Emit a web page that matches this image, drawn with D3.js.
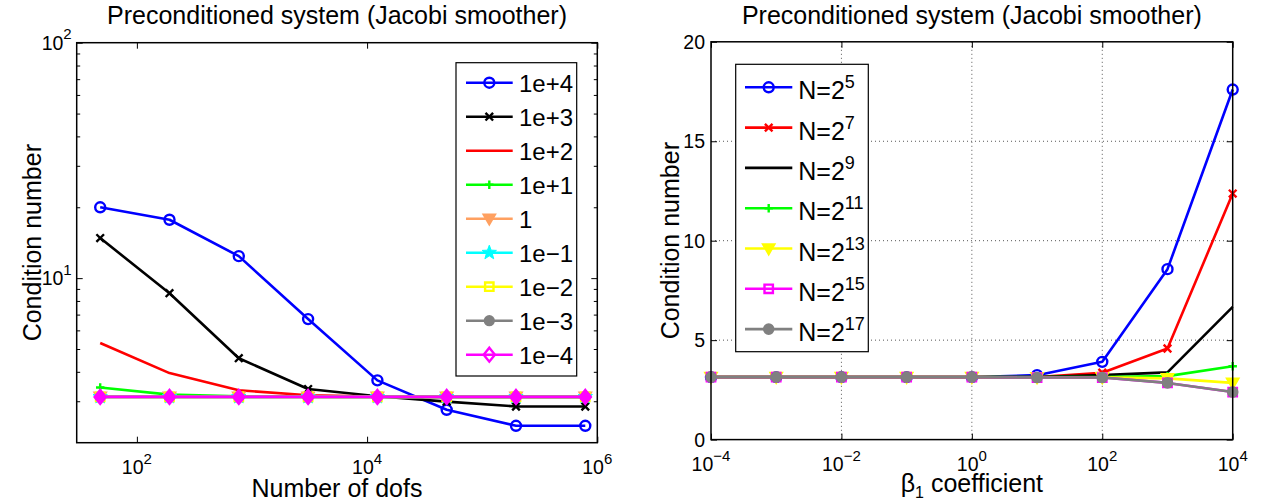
<!DOCTYPE html>
<html><head><meta charset="utf-8">
<script src="https://cdn.jsdelivr.net/npm/d3@7"></script>
<style>
html,body{margin:0;padding:0;background:#fff;}
svg{display:block;font-family:"Liberation Sans",Arial,Helvetica,sans-serif;}
</style></head>
<body><svg id="c" width="1265" height="502"></svg>
<script>
// ---------- data: left panel ----------
const dofs = [48, 192, 768, 3072, 12288, 49152, 196608, 786432];
const leftNames = ["1e+4","1e+3","1e+2","1e+1","1","1e\u22121","1e\u22122","1e\u22123","1e\u22124"];
const cond_1e4  = [20.0, 17.7, 12.4, 6.70, 3.68, 2.76, 2.36, 2.36];
const cond_1e3  = [14.8, 8.63, 4.57, 3.38, 3.15, 2.99, 2.85, 2.85];
const cond_1e2  = [5.30, 3.95, 3.34, 3.18, 3.14, 3.13, 3.13, 3.13];
const cond_1e1  = [3.43, 3.20, 3.15, 3.14, 3.13, 3.13, 3.13, 3.13];
const cond_1    = [3.13, 3.13, 3.13, 3.13, 3.13, 3.13, 3.13, 3.13];
const cond_1em1 = [3.13, 3.13, 3.13, 3.13, 3.13, 3.13, 3.13, 3.13];
const cond_1em2 = [3.13, 3.13, 3.13, 3.13, 3.13, 3.13, 3.13, 3.13];
const cond_1em3 = [3.13, 3.13, 3.13, 3.13, 3.13, 3.13, 3.13, 3.13];
const cond_1em4 = [3.13, 3.13, 3.13, 3.13, 3.13, 3.13, 3.13, 3.13];
const leftXTicks = [1e2, 1e4, 1e6];
const leftXTickExp = ["2", "4", "6"];
const leftYTicks = [10, 100];
const leftYTickExp = ["1", "2"];
const leftYMinor = [3,4,5,6,7,8,9,20,30,40,50,60,70,80,90];

// ---------- data: right panel ----------
const beta = [1e-4, 1e-3, 1e-2, 1e-1, 1e0, 1e1, 1e2, 1e3, 1e4];
const rightExp = ["5","7","9","11","13","15","17"];
const condN5  = [3.14, 3.14, 3.14, 3.14, 3.14, 3.24, 3.91, 8.57, 17.6];
const condN7  = [3.14, 3.14, 3.14, 3.14, 3.14, 3.14, 3.36, 4.58, 12.37];
const condN9  = [3.14, 3.14, 3.14, 3.14, 3.14, 3.14, 3.24, 3.38, 6.67];
const condN11 = [3.14, 3.14, 3.14, 3.14, 3.14, 3.14, 3.14, 3.19, 3.69];
const condN13 = [3.14, 3.14, 3.14, 3.14, 3.14, 3.13, 3.13, 3.08, 2.85];
const condN15 = [3.14, 3.14, 3.14, 3.14, 3.14, 3.12, 3.12, 2.85, 2.39];
const condN17 = [3.14, 3.14, 3.14, 3.14, 3.14, 3.12, 3.12, 2.85, 2.39];
const rightXTicks = [1e-4, 1e-2, 1e0, 1e2, 1e4];
const rightXTickExp = ["\u22124", "\u22122", "0", "2", "4"];
const rightYTicks = [0, 5, 10, 15, 20];

// ---------- marker paths ----------
const M = {
  circle: r => `M${-r},0A${r},${r} 0 1,0 ${r},0A${r},${r} 0 1,0 ${-r},0Z`,
  x: r => `M${-r},${-r}L${r},${r}M${-r},${r}L${r},${-r}`,
  plus: r => `M${-r},0L${r},0M0,${-r}L0,${r}`,
  tri: r => `M${-r},${-r*0.75}L${r},${-r*0.75}L0,${r}Z`,
  square: r => `M${-r},${-r}L${r},${-r}L${r},${r}L${-r},${r}Z`,
  diamond: r => `M0,${-r*1.25}L${r},0L0,${r*1.25}L${-r},0Z`,
  star: r => { let p=[]; for(let i=0;i<10;i++){const a=-Math.PI/2+i*Math.PI/5; const rr=i%2?r*0.42:r; p.push([rr*Math.cos(a),rr*Math.sin(a)]);} return "M"+p.map(d=>d.join(",")).join("L")+"Z"; }
};
const LW = 2.6;

const svg = d3.select("#c");

function drawMarker(g, kind, x, y, color) {
  if (!kind.m) return;
  g.append("path").attr("transform", `translate(${x},${y})`)
    .attr("d", M[kind.m](kind.r))
    .attr("fill", kind.fill ? color : "none")
    .attr("stroke", color).attr("stroke-width", kind.sw || 2.4);
}

// ================= LEFT PANEL =================
const L = {x0: 76.7, x1: 597.3, y0: 42.7, y1: 442.7};
const xL = d3.scaleLog().domain([30, 1e6]).range([L.x0, L.x1]);
const yL = d3.scaleLog().domain([2, 100]).range([L.y1, L.y0]);

const leftSeries = [
  {name: leftNames[0], v: cond_1e4,  color: "#0000ff", m: "circle", r: 5},
  {name: leftNames[1], v: cond_1e3,  color: "#000000", m: "x", r: 3.8},
  {name: leftNames[2], v: cond_1e2,  color: "#ff0000", m: null},
  {name: leftNames[3], v: cond_1e1,  color: "#00ff00", m: "plus", r: 4.2},
  {name: leftNames[4], v: cond_1,    color: "#ffa060", m: "tri", r: 5.5, fill: true},
  {name: leftNames[5], v: cond_1em1, color: "#00ffff", m: "star", r: 7.5, fill: true, sw: 1},
  {name: leftNames[6], v: cond_1em2, color: "#ffff00", m: "square", r: 4.2},
  {name: leftNames[7], v: cond_1em3, color: "#808080", m: "circle", r: 4.4, fill: true},
  {name: leftNames[8], v: cond_1em4, color: "#ff00ff", m: "diamond", r: 5.6, fill: true}
];

const gL = svg.append("g");
gL.append("g").attr("transform", `translate(0,${L.y1})`)
  .call(d3.axisBottom(xL).tickValues(leftXTicks).tickSizeInner(-6).tickSizeOuter(0).tickFormat(() => ""));
gL.append("g").attr("transform", `translate(0,${L.y0})`)
  .call(d3.axisTop(xL).tickValues(leftXTicks).tickSizeInner(-6).tickSizeOuter(0).tickFormat(() => ""));
gL.append("g").attr("transform", `translate(${L.x0},0)`)
  .call(d3.axisLeft(yL).tickValues(leftYTicks).tickSizeInner(-6).tickSizeOuter(0).tickFormat(() => ""));
gL.append("g").attr("transform", `translate(${L.x1},0)`)
  .call(d3.axisRight(yL).tickValues(leftYTicks).tickSizeInner(-6).tickSizeOuter(0).tickFormat(() => ""));
gL.append("g").attr("transform", `translate(${L.x0},0)`)
  .call(d3.axisLeft(yL).tickValues(leftYMinor).tickSizeInner(-3.5).tickSizeOuter(0).tickFormat(() => ""));
gL.append("g").attr("transform", `translate(${L.x1},0)`)
  .call(d3.axisRight(yL).tickValues(leftYMinor).tickSizeInner(-3.5).tickSizeOuter(0).tickFormat(() => ""));
gL.selectAll(".domain").remove();
gL.selectAll(".tick line").attr("stroke", "#000").attr("stroke-width", 1);

const lineL = d3.line().x((d, i) => xL(dofs[i])).y(d => yL(d));
leftSeries.forEach(s => {
  gL.append("path").attr("d", lineL(s.v)).attr("fill", "none")
    .attr("stroke", s.color).attr("stroke-width", LW).attr("stroke-linejoin", "round");
  s.v.forEach((d, i) => drawMarker(gL, s, xL(dofs[i]), yL(d), s.color));
});

gL.append("rect").attr("x", L.x0).attr("y", L.y0).attr("width", L.x1 - L.x0).attr("height", L.y1 - L.y0)
  .attr("fill", "none").attr("stroke", "#000").attr("stroke-width", 1.5);

leftXTicks.forEach((t, i) => {
  const tx = gL.append("text").attr("x", xL(t)).attr("y", L.y1 + 31.5).attr("text-anchor", "middle")
    .attr("font-size", 19.5).attr("fill", "#000");
  tx.append("tspan").text("10");
  tx.append("tspan").attr("dy", -10.5).attr("font-size", 15).text(leftXTickExp[i]);
});
leftYTicks.forEach((t, i) => {
  const tx = gL.append("text").attr("x", L.x0 - 5).attr("y", yL(t) + 7).attr("text-anchor", "end")
    .attr("font-size", 19.5).attr("fill", "#000");
  tx.append("tspan").text("10");
  tx.append("tspan").attr("dy", -10.5).attr("font-size", 15).text(leftYTickExp[i]);
});

gL.append("text").attr("x", (L.x0 + L.x1) / 2).attr("y", 24).attr("text-anchor", "middle")
  .attr("font-size", 25).text("Preconditioned system (Jacobi smoother)");
gL.append("text").attr("x", (L.x0 + L.x1) / 2).attr("y", 497).attr("text-anchor", "middle")
  .attr("font-size", 25).text("Number of dofs");
gL.append("text").attr("transform", `translate(41,${(L.y0 + L.y1) / 2}) rotate(-90)`).attr("text-anchor", "middle")
  .attr("font-size", 25).text("Condition number");

const lgL = {x0: 456, y0: 62.7, x1: 576.7, y1: 376, row0: 82.7, step: 34};
gL.append("rect").attr("x", lgL.x0).attr("y", lgL.y0).attr("width", lgL.x1 - lgL.x0).attr("height", lgL.y1 - lgL.y0)
  .attr("fill", "#fff").attr("stroke", "#000").attr("stroke-width", 1.2);
leftSeries.forEach((s, i) => {
  const y = lgL.row0 + i * lgL.step;
  gL.append("line").attr("x1", 466).attr("x2", 512.7).attr("y1", y).attr("y2", y)
    .attr("stroke", s.color).attr("stroke-width", LW);
  const mk = Object.assign({}, s);
  if (s.m === "diamond") mk.fill = false;
  drawMarker(gL, mk, 489.3, y, s.color);
  gL.append("text").attr("x", 519).attr("y", y + 9).attr("font-size", 24).text(s.name);
});

// ================= RIGHT PANEL =================
const R = {x0: 711, x1: 1232.7, y0: 41.8, y1: 439.6};
const xR = d3.scaleLog().domain([1e-4, 1e4]).range([R.x0, R.x1]);
const yR = d3.scaleLinear().domain([0, 20]).range([R.y1, R.y0]);

const rightSeries = [
  {v: condN5,  color: "#0000ff", m: "circle", r: 5},
  {v: condN7,  color: "#ff0000", m: "x", r: 3.8},
  {v: condN9,  color: "#000000", m: null},
  {v: condN11, color: "#00ff00", m: "plus", r: 4.2},
  {v: condN13, color: "#ffff00", m: "tri", r: 5.5, fill: true},
  {v: condN15, color: "#ff00ff", m: "square", r: 4.2},
  {v: condN17, color: "#808080", m: "circle", r: 4.6, fill: true}
];

const gR = svg.append("g");
const gridX = rightXTicks.slice(1, -1), gridY = rightYTicks.slice(1, -1);
gR.append("g").selectAll("line").data(gridX).join("line")
  .attr("x1", d => xR(d)).attr("x2", d => xR(d)).attr("y1", R.y0).attr("y2", R.y1)
  .attr("stroke", "#555").attr("stroke-width", 1).attr("stroke-dasharray", "1,3");
gR.append("g").selectAll("line").data(gridY).join("line")
  .attr("y1", d => yR(d)).attr("y2", d => yR(d)).attr("x1", R.x0).attr("x2", R.x1)
  .attr("stroke", "#555").attr("stroke-width", 1).attr("stroke-dasharray", "1,3");

gR.append("g").attr("transform", `translate(0,${R.y1})`)
  .call(d3.axisBottom(xR).tickValues(rightXTicks).tickSizeInner(-6).tickSizeOuter(0).tickFormat(() => ""));
gR.append("g").attr("transform", `translate(0,${R.y0})`)
  .call(d3.axisTop(xR).tickValues(rightXTicks).tickSizeInner(-6).tickSizeOuter(0).tickFormat(() => ""));
gR.append("g").attr("transform", `translate(${R.x0},0)`)
  .call(d3.axisLeft(yR).tickValues(rightYTicks).tickSizeInner(-6).tickSizeOuter(0).tickFormat(() => ""));
gR.append("g").attr("transform", `translate(${R.x1},0)`)
  .call(d3.axisRight(yR).tickValues(rightYTicks).tickSizeInner(-6).tickSizeOuter(0).tickFormat(() => ""));
gR.selectAll(".domain").remove();
gR.selectAll(".tick line").attr("stroke", "#000").attr("stroke-width", 1);

const lineR = d3.line().x((d, i) => xR(beta[i])).y(d => yR(d));
rightSeries.forEach(s => {
  gR.append("path").attr("d", lineR(s.v)).attr("fill", "none")
    .attr("stroke", s.color).attr("stroke-width", LW).attr("stroke-linejoin", "round");
  s.v.forEach((d, i) => drawMarker(gR, s, xR(beta[i]), yR(d), s.color));
});

gR.append("rect").attr("x", R.x0).attr("y", R.y0).attr("width", R.x1 - R.x0).attr("height", R.y1 - R.y0)
  .attr("fill", "none").attr("stroke", "#000").attr("stroke-width", 1.5);

rightXTicks.forEach((t, i) => {
  const tx = gR.append("text").attr("x", xR(t)).attr("y", R.y1 + 31.5).attr("text-anchor", "middle")
    .attr("font-size", 19.5);
  tx.append("tspan").text("10");
  tx.append("tspan").attr("dy", -10.5).attr("font-size", 15).text(rightXTickExp[i]);
});
rightYTicks.forEach(t => {
  gR.append("text").attr("x", R.x0 - 6).attr("y", yR(t) + 7).attr("text-anchor", "end")
    .attr("font-size", 19.5).text(String(t));
});

gR.append("text").attr("x", (R.x0 + R.x1) / 2).attr("y", 24).attr("text-anchor", "middle")
  .attr("font-size", 25).text("Preconditioned system (Jacobi smoother)");
const xl = gR.append("text").attr("x", (R.x0 + R.x1) / 2).attr("y", 492).attr("text-anchor", "middle")
  .attr("font-size", 25);
xl.append("tspan").text("\u03b2");
xl.append("tspan").attr("dy", 6).attr("font-size", 16).text("1");
xl.append("tspan").attr("dy", -6).text(" coefficient");
gR.append("text").attr("transform", `translate(679,${(R.y0 + R.y1) / 2}) rotate(-90)`).attr("text-anchor", "middle")
  .attr("font-size", 25).text("Condition number");

const lgR = {x0: 735.7, y0: 64.3, x1: 868.3, y1: 351.7, row0: 87.3, step: 40.3};
gR.append("rect").attr("x", lgR.x0).attr("y", lgR.y0).attr("width", lgR.x1 - lgR.x0).attr("height", lgR.y1 - lgR.y0)
  .attr("fill", "#fff").attr("stroke", "#000").attr("stroke-width", 1.2);
rightSeries.forEach((s, i) => {
  const y = lgR.row0 + i * lgR.step;
  gR.append("line").attr("x1", 745).attr("x2", 792.3).attr("y1", y).attr("y2", y)
    .attr("stroke", s.color).attr("stroke-width", LW);
  drawMarker(gR, s, 768.7, y, s.color);
  const tx = gR.append("text").attr("x", 798.3).attr("y", y + 12).attr("font-size", 25);
  tx.append("tspan").text("N=2");
  tx.append("tspan").attr("dy", -11).attr("font-size", 18).text(rightExp[i]);
});
</script></body></html>
